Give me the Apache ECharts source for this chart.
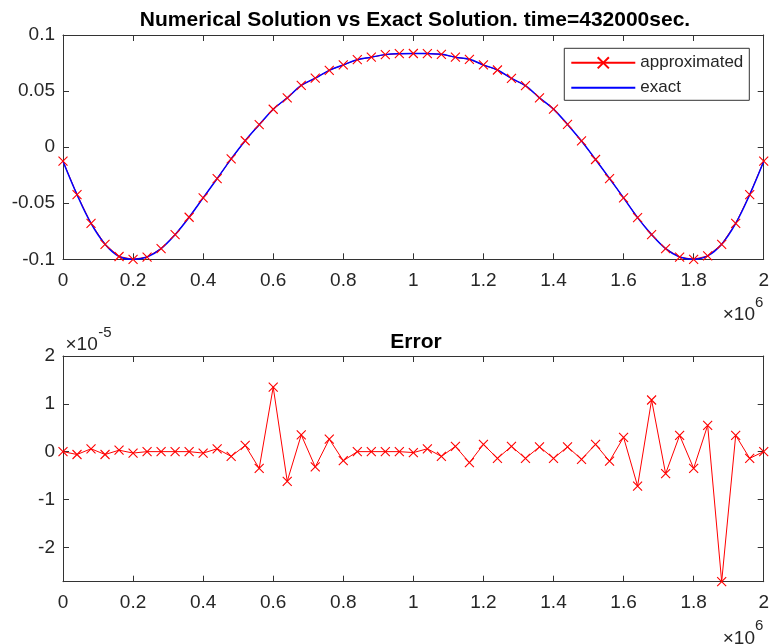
<!DOCTYPE html>
<html>
<head>
<meta charset="utf-8">
<script src="https://cdn.jsdelivr.net/npm/echarts@6/dist/echarts.min.js"></script>
<style>
html,body{margin:0;padding:0;background:#fff;}
#chart{width:772px;height:644px;}
</style>
</head>
<body>
<div id="chart"></div>
<script>
// x positions (units of 1e6)
const xPos = [0, 0.04, 0.08, 0.12, 0.16, 0.2, 0.24, 0.28, 0.32, 0.36, 0.4, 0.44, 0.48, 0.52, 0.56, 0.6, 0.64, 0.68, 0.72, 0.76, 0.8, 0.84, 0.88, 0.92, 0.96, 1.0, 1.04, 1.08, 1.12, 1.16, 1.2, 1.24, 1.28, 1.32, 1.36, 1.4, 1.44, 1.48, 1.52, 1.56, 1.6, 1.64, 1.68, 1.72, 1.76, 1.8, 1.84, 1.88, 1.92, 1.96, 2.0];

// numerical solution (markers)
const approximated = [-0.0125, -0.0423, -0.068, -0.0866, -0.0975, -0.1, -0.098, -0.0905, -0.078, -0.0625, -0.0452, -0.028, -0.0105, 0.0057, 0.02, 0.0338, 0.044, 0.055, 0.0615, 0.0685, 0.0733, 0.078, 0.0802, 0.0825, 0.0833, 0.0835, 0.0834, 0.0828, 0.0802, 0.0783, 0.0733, 0.0688, 0.0613, 0.0548, 0.044, 0.0339, 0.0203, 0.0055, -0.011, -0.028, -0.0452, -0.0628, -0.078, -0.0905, -0.098, -0.1, -0.097, -0.0866, -0.068, -0.0423, -0.0125];

// exact solution (line)
const exact = [-0.0125, -0.0423, -0.068, -0.0866, -0.0975, -0.1, -0.098, -0.0905, -0.078, -0.0625, -0.0452, -0.028, -0.0105, 0.0057, 0.02, 0.0338, 0.044, 0.055, 0.0615, 0.0685, 0.0733, 0.078, 0.0802, 0.0825, 0.0833, 0.0835, 0.0834, 0.0828, 0.0802, 0.0783, 0.0733, 0.0688, 0.0613, 0.0548, 0.044, 0.0339, 0.0203, 0.0055, -0.011, -0.028, -0.0452, -0.0628, -0.078, -0.0905, -0.098, -0.1, -0.097, -0.0866, -0.068, -0.0423, -0.0125];

// error (units of 1e-5)
const errorVals = [0.0, -0.06, 0.06, -0.06, 0.03, -0.03, 0.0, 0.0, 0.0, 0.0, -0.03, 0.06, -0.1, 0.13, -0.35, 1.35, -0.62, 0.35, -0.32, 0.26, -0.19, 0.0, 0.0, 0.0, 0.0, -0.02, 0.06, -0.1, 0.11, -0.23, 0.15, -0.14, 0.11, -0.14, 0.1, -0.14, 0.1, -0.16, 0.15, -0.2, 0.3, -0.72, 1.08, -0.46, 0.34, -0.35, 0.55, -2.72, 0.34, -0.14, 0.0];

const errorTicks = [-2, -1, 0, 1, 2];

const FONT = "'Liberation Sans', Arial, Helvetica, sans-serif";
const AX = '#333333';
const xMark = 'path://M0,0L10,10M10,0L0,10';

function xAxisDef(grid, pos, labels) {
  return {
    gridIndex: grid, type: 'value', min: 0, max: 2, interval: 0.2, position: pos,
    axisLine: {show: true, onZero: false, lineStyle: {color: AX, width: 1}},
    axisTick: {show: true, inside: true, length: 6, lineStyle: {color: AX, width: 1}},
    axisLabel: {show: labels, color: '#262626', fontSize: 19, fontFamily: FONT, margin: 12},
    splitLine: {show: false}
  };
}
function yAxisDef(grid, pos, labels, extra) {
  const a = {
    gridIndex: grid, type: 'value', position: pos,
    axisLine: {show: true, onZero: false, lineStyle: {color: AX, width: 1}},
    axisTick: {show: true, inside: true, length: 6, lineStyle: {color: AX, width: 1}},
    axisLabel: {show: labels, color: '#262626', fontSize: 19, fontFamily: FONT, margin: 8},
    splitLine: {show: false}
  };
  return Object.assign(a, extra || {});
}

const topY = {min: -0.1, max: 0.1, interval: 0.05};
function botY(pos, labels) {
  const a = yAxisDef(1, pos, labels, {min: -2.72, max: 2});
  a.axisLabel.customValues = errorTicks;
  a.axisTick.customValues = errorTicks;
  return a;
}

const chart = echarts.init(document.getElementById('chart'), null, {renderer: 'canvas'});
chart.setOption({
  backgroundColor: '#ffffff',
  animation: false,
  grid: [
    {left: 63, right: 5, top: 35, height: 224.3},
    {left: 63, right: 5, top: 356, height: 225.7}
  ],
  legend: {
    data: ['approximated', {name: 'exact', itemStyle: {opacity: 0}}],
    orient: 'vertical',
    right: 22.7, top: 48.3,
    itemWidth: 64, itemHeight: 14, itemGap: 8,
    padding: [6, 6, 4, 6],
    backgroundColor: '#ffffff',
    borderColor: '#333333', borderWidth: 1,
    textStyle: {fontSize: 17, fontFamily: FONT, color: '#262626'}
  },
  xAxis: [xAxisDef(0, 'bottom', true), xAxisDef(0, 'top', false), xAxisDef(1, 'bottom', true), xAxisDef(1, 'top', false)],
  yAxis: [yAxisDef(0, 'left', true, topY), yAxisDef(0, 'right', false, topY), botY('left', true), botY('right', false)],
  series: [
    {
      name: 'approximated', type: 'line', xAxisIndex: 0, yAxisIndex: 0,
      data: xPos.map((x, i) => [x, approximated[i]]),
      symbol: xMark, symbolSize: 9, clip: false,
      lineStyle: {color: '#ff0000', width: 1},
      itemStyle: {color: 'rgba(0,0,0,0)', borderColor: '#ff0000', borderWidth: 1.1}
    },
    {
      name: 'exact', type: 'line', xAxisIndex: 0, yAxisIndex: 0,
      data: xPos.map((x, i) => [x, exact[i]]),
      symbol: 'none', smooth: 0.4, clip: false,
      lineStyle: {color: '#0000ff', width: 1.5},
      itemStyle: {color: '#0000ff'}
    },
    {
      name: 'error', type: 'line', xAxisIndex: 2, yAxisIndex: 2,
      data: xPos.map((x, i) => [x, errorVals[i]]),
      symbol: xMark, symbolSize: 9, clip: false,
      lineStyle: {color: '#ff0000', width: 1},
      itemStyle: {color: 'rgba(0,0,0,0)', borderColor: '#ff0000', borderWidth: 1.1}
    }
  ],
  graphic: [
    {type: 'text', x: 415, y: 20.3, style: {text: 'Numerical Solution vs Exact Solution. time=432000sec.', font: 'bold 21px ' + FONT, fill: '#000', textAlign: 'center', textVerticalAlign: 'middle'}},
    {type: 'text', x: 416, y: 342, style: {text: 'Error', font: 'bold 21px ' + FONT, fill: '#000', textAlign: 'center', textVerticalAlign: 'middle'}},
    {type: 'text', x: 755, y: 315, style: {text: '×10', font: '19px ' + FONT, fill: '#262626', textAlign: 'right', textVerticalAlign: 'middle'}},
    {type: 'text', x: 755, y: 302.7, style: {text: '6', font: '15px ' + FONT, fill: '#262626', textAlign: 'left', textVerticalAlign: 'middle'}},
    {type: 'text', x: 755, y: 638.5, style: {text: '×10', font: '19px ' + FONT, fill: '#262626', textAlign: 'right', textVerticalAlign: 'middle'}},
    {type: 'text', x: 755, y: 626, style: {text: '6', font: '15px ' + FONT, fill: '#262626', textAlign: 'left', textVerticalAlign: 'middle'}},
    {type: 'text', x: 65.5, y: 344.7, style: {text: '×10', font: '19px ' + FONT, fill: '#262626', textAlign: 'left', textVerticalAlign: 'middle'}},
    {type: 'text', x: 98.3, y: 332.5, style: {text: '-5', font: '15px ' + FONT, fill: '#262626', textAlign: 'left', textVerticalAlign: 'middle'}}
  ]
});
</script>
</body>
</html>
